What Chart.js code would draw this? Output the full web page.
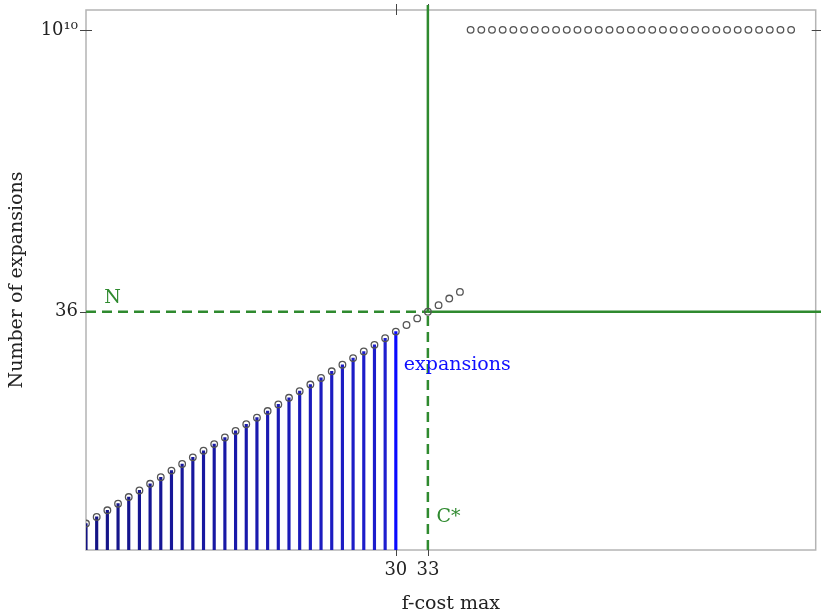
<!DOCTYPE html>
<html>
<head>
<meta charset="utf-8">
<script src="https://cdn.jsdelivr.net/npm/chart.js@4.4.1/dist/chart.umd.min.js"></script>
<style>
  html, body { margin: 0; padding: 0; background: #fff; }
</style>
</head>
<body>
<canvas id="chart" width="821" height="616"></canvas>
<script>
// data
const fcostMax = [1, 2, 3, 4, 5, 6, 7, 8, 9, 10, 11, 12, 13, 14, 15, 16, 17, 18, 19, 20,
  21, 22, 23, 24, 25, 26, 27, 28, 29, 30, 31, 32, 33, 34, 35, 36, 37, 38, 39, 40,
  41, 42, 43, 44, 45, 46, 47, 48, 49, 50, 51, 52, 53, 54, 55, 56, 57, 58, 59, 60,
  61, 62, 63, 64, 65, 66, 67];
const expansions = [4, 5, 6, 7, 8, 9, 10, 11, 12, 13, 14, 15, 16, 17, 18, 19, 20, 21, 22, 23,
  24, 25, 26, 27, 28, 29, 30, 31, 32, 33, 34, 35, 36, 37, 38, 39,
  1e10, 1e10, 1e10, 1e10, 1e10, 1e10, 1e10, 1e10, 1e10, 1e10, 1e10, 1e10, 1e10, 1e10, 1e10, 1e10,
  1e10, 1e10, 1e10, 1e10, 1e10, 1e10, 1e10, 1e10, 1e10, 1e10, 1e10, 1e10, 1e10, 1e10, 1e10];
const stemX = [1, 2, 3, 4, 5, 6, 7, 8, 9, 10, 11, 12, 13, 14, 15, 16, 17, 18, 19, 20,
  21, 22, 23, 24, 25, 26, 27, 28, 29, 30];
const stemY = [4, 5, 6, 7, 8, 9, 10, 11, 12, 13, 14, 15, 16, 17, 18, 19, 20, 21, 22, 23,
  24, 25, 26, 27, 28, 29, 30, 31, 32, 33];
const xTicks = [30, 33];
const yTicks = [36, 1e10];
const yTickLabels = ['36', '10¹⁰'];
const cStar = 33;
const nLimit = 36;

// axis ranges, the huge values are drawn at a broken-axis position
const xMin = 1, xMax = 69.3;
const yMin = 0, yMax = 81.6, yBreakAt = 1e6, yBreakPos = 78.6;

const FONT = "'DejaVu Serif', serif";
const GREEN = '#2f8a2f';

// linear scale with a break: anything above yBreakAt sits at yBreakPos
class BrokenScale extends Chart.LinearScale {
  getPixelForValue(v) {
    return super.getPixelForValue(v >= yBreakAt ? yBreakPos : v);
  }
}
BrokenScale.id = 'broken';
BrokenScale.defaults = Chart.LinearScale.defaults;
Chart.register(BrokenScale);

const pts = fcostMax.map((x, i) => ({ x: x, y: expansions[i] }));
const stems = stemX.map((x, i) => ({ x: x, y: stemY[i] }));
const stemColors = stemX.map((x, i) => {
  if (i === stemX.length - 1) return '#0a0aff';
  const t = i / (stemX.length - 1);
  const r = Math.round(20 + t * 10), b = Math.round(130 + t * 80);
  return 'rgb(' + r + ',' + r + ',' + b + ')';
});

// frame, mirrored tick marks and the text notes
const frame = {
  id: 'frame',
  beforeDatasetsDraw(chart) {
    const { ctx, chartArea: a, scales } = chart;
    ctx.save();
    ctx.strokeStyle = '#b4b4b4';
    ctx.lineWidth = 1.5;
    ctx.strokeRect(a.left, a.top, a.right - a.left, a.bottom - a.top);
    ctx.strokeStyle = '#444';
    ctx.lineWidth = 1;
    ctx.beginPath();
    yTicks.forEach(v => {
      const y = Math.round(scales.y.getPixelForValue(v)) + 0.5;
      ctx.moveTo(a.left - 6, y); ctx.lineTo(a.left + 6, y);
      ctx.moveTo(a.right - 4, y); ctx.lineTo(a.right + 6, y);
    });
    xTicks.forEach(v => {
      const x = Math.round(scales.x.getPixelForValue(v)) + 0.5;
      ctx.moveTo(x, a.bottom - 5); ctx.lineTo(x, a.bottom + 6);
      ctx.moveTo(x, a.top - 6); ctx.lineTo(x, a.top + 5);
    });
    ctx.stroke();
    ctx.restore();
  },
  afterDatasetsDraw(chart) {
    const { ctx, scales } = chart;
    const note = (txt, x, y, color) => {
      ctx.fillStyle = color;
      ctx.fillText(txt, scales.x.getPixelForValue(x), scales.y.getPixelForValue(y));
    };
    ctx.save();
    ctx.font = '19px ' + FONT;
    ctx.textAlign = 'left';
    ctx.textBaseline = 'middle';
    note('N', 2.7, 38, GREEN);
    note('C*', 33.8, 5, GREEN);
    note('expansions', 30.75, 28, '#1010ff');
    ctx.restore();
  }
};

new Chart(document.getElementById('chart'), {
  type: 'scatter',
  data: {
    datasets: [
      {
        type: 'line',
        data: pts,
        showLine: false,
        pointStyle: 'circle',
        pointRadius: 3.3,
        pointBorderWidth: 1.3,
        pointBorderColor: '#555',
        pointBackgroundColor: 'rgba(255,255,255,0)',
        order: 0
      },
      {
        type: 'line',
        data: [{ x: xMin, y: nLimit }, { x: cStar, y: nLimit }],
        borderColor: GREEN, borderWidth: 2.5, borderDash: [10, 6],
        pointRadius: 0, clip: false, order: 1
      },
      {
        type: 'line',
        data: [{ x: cStar, y: nLimit }, { x: 69.85, y: nLimit }],
        borderColor: GREEN, borderWidth: 2.5,
        pointRadius: 0, clip: false, order: 1
      },
      {
        type: 'line',
        data: [{ x: cStar, y: yMin }, { x: cStar, y: nLimit }],
        borderColor: GREEN, borderWidth: 2.5, borderDash: [10, 6],
        pointRadius: 0, clip: false, order: 1
      },
      {
        type: 'line',
        data: [{ x: cStar, y: nLimit }, { x: cStar, y: 82.35 }],
        borderColor: GREEN, borderWidth: 2.5,
        pointRadius: 0, clip: false, order: 1
      },
      {
        type: 'bar',
        data: stems,
        backgroundColor: stemColors,
        barThickness: 2.5,
        order: 2
      }
    ]
  },
  options: {
    responsive: false,
    animation: false,
    devicePixelRatio: 1,
    layout: { padding: { top: 10, right: 5, left: 0, bottom: 0 } },
    plugins: { legend: { display: false }, tooltip: { enabled: false } },
    scales: {
      x: {
        type: 'linear',
        min: xMin,
        max: xMax,
        offset: false,
        grid: { display: false, drawTicks: false },
        border: { display: false },
        afterBuildTicks: s => { s.ticks = xTicks.map(v => ({ value: v })); },
        afterFit: s => { s.height = 66; s.paddingLeft = 0; s.paddingRight = 0; },
        ticks: {
          padding: 10,
          color: '#222',
          font: { family: FONT, size: 18 },
          maxRotation: 0,
          autoSkip: false
        },
        title: {
          display: true,
          text: 'f-cost max',
          color: '#222',
          font: { family: FONT, size: 19 },
          padding: { top: 0, bottom: 1 }
        }
      },
      y: {
        type: 'broken',
        min: yMin,
        max: yMax,
        grid: { display: false, drawTicks: false },
        border: { display: false },
        afterBuildTicks: s => { s.ticks = yTicks.map(v => ({ value: v })); },
        afterFit: s => { s.width = 86; s.paddingTop = 0; s.paddingBottom = 0; },
        ticks: {
          padding: 8,
          color: '#222',
          font: { family: FONT, size: 18 },
          autoSkip: false,
          callback: function (v) {
            const i = yTicks.indexOf(v);
            return i >= 0 ? yTickLabels[i] : '';
          }
        },
        title: {
          display: true,
          text: 'Number of expansions',
          color: '#222',
          font: { family: FONT, size: 19 },
          padding: { top: 6, bottom: 0 }
        }
      }
    }
  },
  plugins: [frame]
});
</script>
</body>
</html>
